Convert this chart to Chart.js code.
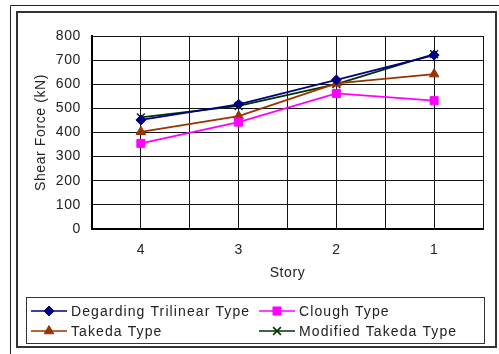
<!DOCTYPE html>
<html lang="en">
<head>
    <meta charset="UTF-8">
    <script src="https://cdn.jsdelivr.net/npm/chart.js@4"></script>
    <title>Shear Force by Story</title>
    <style>
        body{margin:0; background:#fff;}
        #wrap{position:absolute; left:0; top:0; width:499px; height:354px;}
    </style>
</head>
<body>
    <div id="wrap"><canvas id="myChart"></canvas></div>
    <script>
        // data
        const stories = ['4', '3', '2', '1']
        const degrading = [452, 517, 618, 721]
        const clough = [355, 443, 562, 532]
        const takeda = [403, 468, 604, 642]
        const modTakeda = [463, 510, 601, 725]
        const yTicks = [0, 100, 200, 300, 400, 500, 600, 700, 800]

        const FONT = 'Liberation Sans, Arial, sans-serif'
        const TXT = '#222'

        function pts(arr){
            return arr.map((v, i) => ({x: 2*i + 1, y: v}))
        }

        const frame = {
            id: 'frame',
            beforeDraw(chart){
                const c = chart.ctx
                c.letterSpacing = '0.6px'
                c.save()
                c.strokeStyle = '#222'
                c.lineWidth = 1
                c.beginPath()
                c.moveTo(10.5, 354); c.lineTo(10.5, 5.5); c.lineTo(499, 5.5)
                c.stroke()
                c.strokeStyle = '#333'
                c.lineWidth = 2
                c.strokeRect(17, 12, 479, 335)
                c.restore()
            },
            afterDraw(chart){
                // legend box
                const c = chart.ctx
                c.save()
                c.strokeStyle = '#333'
                c.lineWidth = 1
                c.strokeRect(26.5, 297.5, 458, 46)
                const cols = [31, 259], rows = [311, 331]
                chart.data.datasets.forEach((ds, i) => {
                    const x = cols[i % 2], y = rows[Math.floor(i / 2)]
                    c.strokeStyle = ds.borderColor
                    c.lineWidth = 1.5
                    c.beginPath(); c.moveTo(x, y); c.lineTo(x + 36, y); c.stroke()
                    c.fillStyle = ds.pointBackgroundColor
                    c.strokeStyle = ds.pointBorderColor
                    c.lineWidth = ds.pointBorderWidth || 1
                    Chart.helpers.drawPoint(c, {
                        pointStyle: ds.pointStyle, radius: ds.pointRadius,
                        borderWidth: ds.pointBorderWidth || 1
                    }, x + 18, y)
                    c.fillStyle = TXT
                    c.font = '14px ' + FONT
                    c.textBaseline = 'middle'
                    c.letterSpacing = '1.1px'
                    c.fillText(ds.label, x + 40, y + 1)
                })
                c.restore()
            }
        }

        function ds(label, data, color, style, r, bw){
            return {
                label: label, data: pts(data),
                borderColor: color, backgroundColor: color,
                pointBackgroundColor: color, pointBorderColor: color,
                pointStyle: style, pointRadius: r, pointHoverRadius: r,
                pointBorderWidth: bw, borderWidth: 1.8, tension: 0
            }
        }

        const ctx = document.getElementById('myChart').getContext('2d')
        const myChart = new Chart(ctx, {
            type: 'line',
            data: {
                datasets: [
                    ds('Degarding Trilinear Type', degrading, '#000080', 'rectRot', 5, 1),
                    ds('Clough Type', clough, '#ff00ff', 'rect', 5.7, 1),
                    ds('Takeda Type', takeda, '#993300', 'triangle', 5.5, 1),
                    ds('Modified Takeda Type', modTakeda, '#003300', 'crossRot', 5.5, 1.5)
                ]
            },
            options: {
                responsive: true,
                maintainAspectRatio: false,
                animation: false,
                layout: {padding: {left: 0, top: 36, right: 16, bottom: 65}},
                plugins: {legend: {display: false}, tooltip: {enabled: false}},
                scales: {
                    x: {
                        type: 'linear', min: 0, max: 8,
                        afterFit(s){ s.height = 60 },
                        afterBuildTicks(s){ s.ticks = [0,1,2,3,4,5,6,7,8].map(v => ({value: v})) },
                        ticks: {
                            autoSkip: false, maxRotation: 0, padding: 13, color: TXT,
                            font: {family: FONT, size: 14},
                            callback: v => (v % 2 === 1 ? stories[(v - 1) / 2] : '')
                        },
                        grid: {color: '#111', lineWidth: 1, drawTicks: false},
                        border: {color: '#000', width: 2},
                        title: {display: true, text: 'Story', color: TXT,
                            font: {family: FONT, size: 14}, padding: {top: 0, bottom: 7}}
                    },
                    y: {
                        min: 0, max: 800,
                        afterFit(s){ s.width = 92 },
                        afterBuildTicks(s){ s.ticks = yTicks.map(v => ({value: v})) },
                        ticks: {padding: 11, color: TXT, font: {family: FONT, size: 14}},
                        grid: {color: '#111', lineWidth: 1, drawTicks: false},
                        border: {color: '#000', width: 2},
                        title: {display: true, text: 'Shear Force (kN)', color: TXT,
                            font: {family: FONT, size: 14}, padding: {top: 33, bottom: 0}}
                    }
                }
            },
            plugins: [frame]
        })
    </script>
</body>
</html>
